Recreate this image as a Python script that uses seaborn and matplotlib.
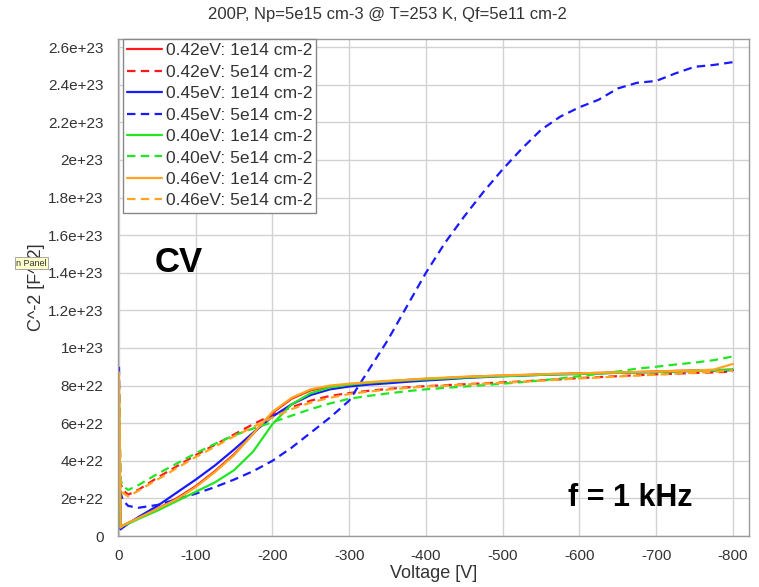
import numpy as np
import pandas as pd
import matplotlib
matplotlib.use("Agg")
import matplotlib.pyplot as plt
from matplotlib.ticker import AutoMinorLocator, FuncFormatter
import seaborn as sns

sns.set_style("white")
plt.rcParams['font.family'] = ['Liberation Sans', 'DejaVu Sans']
plt.rcParams['axes.unicode_minus'] = False

# ---------------- data (C^-2 in units of 1e22 F^-2) ----------------
voltage = [0, -2, -5, -12, -25, -50, -75, -100, -125, -150, -175, -200, -225, -250,
           -275, -300, -325, -350, -375, -400, -425, -450, -475, -500, -525, -550,
           -575, -600, -625, -650, -675, -700, -725, -750, -775, -800]

red_1e14 = [5.0, 0.45, 0.55, 0.7, 0.95, 1.45, 2.0, 2.65, 3.45, 4.35, 5.45, 6.55, 7.3, 7.75,
            7.95, 8.05, 8.15, 8.22, 8.3, 8.35, 8.4, 8.45, 8.5, 8.52, 8.55, 8.6,
            8.62, 8.65, 8.67, 8.7, 8.72, 8.75, 8.78, 8.8, 8.82, 8.85]
red_5e14 = [4.5, 2.8, 2.45, 2.2, 2.45, 3.1, 3.7, 4.3, 4.85, 5.4, 5.95, 6.45, 6.85, 7.2,
            7.45, 7.6, 7.72, 7.82, 7.9, 7.97, 8.02, 8.07, 8.12, 8.17, 8.22, 8.28,
            8.33, 8.4, 8.45, 8.5, 8.55, 8.6, 8.63, 8.67, 8.7, 8.75]
blue_1e14 = [6.3, 0.35, 0.45, 0.65, 1.0, 1.6, 2.3, 3.0, 3.75, 4.6, 5.5, 6.35, 7.0, 7.5,
             7.8, 7.95, 8.05, 8.12, 8.2, 8.27, 8.33, 8.4, 8.45, 8.5, 8.53, 8.57,
             8.6, 8.62, 8.65, 8.68, 8.7, 8.72, 8.75, 8.78, 8.8, 8.82]
blue_5e14 = [9.0, 2.3, 1.9, 1.6, 1.5, 1.65, 1.95, 2.25, 2.6, 3.0, 3.45, 4.0, 4.7, 5.5,
             6.3, 7.2, 8.8, 10.4, 12.2, 14.0, 15.6, 17.0, 18.3, 19.5, 20.6, 21.6,
             22.3, 22.8, 23.2, 23.8, 24.1, 24.2, 24.6, 24.95, 25.05, 25.2]
green_1e14 = [7.4, 0.45, 0.55, 0.65, 0.9, 1.35, 1.85, 2.35, 2.85, 3.5, 4.5, 5.95, 7.0, 7.6,
              7.9, 8.05, 8.15, 8.22, 8.28, 8.33, 8.38, 8.43, 8.47, 8.5, 8.53, 8.57,
              8.6, 8.62, 8.65, 8.68, 8.7, 8.72, 8.75, 8.78, 8.8, 8.85]
green_5e14 = [7.6, 3.0, 2.65, 2.45, 2.7, 3.3, 3.85, 4.4, 4.9, 5.35, 5.72, 6.05, 6.4, 6.75,
              7.05, 7.3, 7.45, 7.58, 7.7, 7.8, 7.88, 7.95, 8.02, 8.1, 8.18, 8.27,
              8.38, 8.5, 8.62, 8.75, 8.9, 9.0, 9.12, 9.22, 9.35, 9.55]
orange_1e14 = [8.7, 0.45, 0.55, 0.7, 0.95, 1.45, 1.95, 2.6, 3.4, 4.3, 5.45, 6.6, 7.35, 7.8,
               8.0, 8.1, 8.18, 8.25, 8.3, 8.38, 8.42, 8.47, 8.5, 8.55, 8.57, 8.6,
               8.63, 8.65, 8.68, 8.7, 8.72, 8.75, 8.78, 8.8, 8.85, 9.15]
orange_5e14 = [8.2, 2.6, 2.3, 2.1, 2.4, 3.0, 3.6, 4.2, 4.75, 5.3, 5.8, 6.3, 6.75, 7.1,
               7.35, 7.55, 7.68, 7.78, 7.87, 7.95, 8.0, 8.05, 8.1, 8.15, 8.2, 8.26,
               8.32, 8.38, 8.43, 8.48, 8.53, 8.58, 8.63, 8.68, 8.73, 8.8]

labels = ["0.42eV: 1e14 cm-2", "0.42eV: 5e14 cm-2",
          "0.45eV: 1e14 cm-2", "0.45eV: 5e14 cm-2",
          "0.40eV: 1e14 cm-2", "0.40eV: 5e14 cm-2",
          "0.46eV: 1e14 cm-2", "0.46eV: 5e14 cm-2"]
series = [red_1e14, red_5e14, blue_1e14, blue_5e14,
          green_1e14, green_5e14, orange_1e14, orange_5e14]
colors = ["#ff1a1a", "#ff1a1a", "#1a1aff", "#1a1aff",
          "#22e622", "#22e622", "#ffa51f", "#ffa51f"]
dashed = [False, True, False, True, False, True, False, True]

title = "200P, Np=5e15 cm-3 @ T=253 K, Qf=5e11 cm-2"

# ---------------- figure ----------------
fig = plt.figure(figsize=(7.59, 5.87), dpi=100)
ax = fig.add_axes([118/759, 1-536/587, (749-118)/759, (536-39)/587])

for lab, vals, col, d in zip(labels, series, colors, dashed):
    df = pd.DataFrame({"V": voltage, "C": np.array(vals) * 1e22})
    sns.lineplot(data=df, x="V", y="C", ax=ax, color=col, lw=1.6, sort=False,
                 linestyle=(0, (3.8, 2.4)) if d else "-", label=lab)

ax.set_xlim(1.3, -821)
ax.set_ylim(0, 2.643e23)
ax.set_xticks(np.arange(0, -801, -100))
ax.set_yticks(np.arange(0, 2.61e23, 2e22))
ax.xaxis.set_minor_locator(AutoMinorLocator(10))
ax.yaxis.set_minor_locator(AutoMinorLocator(20))
ax.xaxis.set_major_formatter(FuncFormatter(lambda v, p: f"{v:.0f}"))
ax.yaxis.set_major_formatter(FuncFormatter(lambda v, p: "0" if abs(v) < 1 else f"{v:g}"))

ax.grid(True, which="major", color="#d2d2d2", lw=1)
for s in ax.spines.values():
    s.set_color("#9a9a9a")
    s.set_linewidth(1)

ax.tick_params(axis="y", which="major", direction="inout", length=11, width=0.9,
               color="#555555", pad=5, labelsize=11, labelcolor="#333333")
ax.tick_params(axis="y", which="minor", direction="inout", length=3, width=0.7,
               color="#666666")
ax.tick_params(axis="x", which="major", direction="inout", length=8, width=0.9,
               color="#555555", pad=5, labelsize=11, labelcolor="#333333")
ax.tick_params(axis="x", which="minor", direction="inout", length=4, width=0.7,
               color="#777777")

ax.set_xlabel("Voltage [V]", fontsize=13, color="#333333")
ax.set_ylabel("C^-2 [F^-2]", fontsize=13, color="#333333")
ax.xaxis.set_label_coords(0.5, (536-565)/497)
ax.yaxis.set_label_coords((45-118)/631, 0.5)

leg = ax.legend(loc="upper left", bbox_to_anchor=(0.008, 1.0), fontsize=12.5,
                frameon=True, fancybox=False, framealpha=1, edgecolor="#888888",
                handlelength=2.0, handletextpad=0.2, labelspacing=0.36,
                borderpad=0.25, borderaxespad=0)
leg.get_frame().set_linewidth(1)
for t in leg.get_texts():
    t.set_color("#333333")

fig.text(387/759, 1-14/587, title, ha="center", va="center", fontsize=12,
         color="#333333")
fig.text(179/759, 1-262/587, "CV", ha="center", va="center", fontsize=25,
         fontweight="bold", color="black")
fig.text(630/759, 1-498/587, "f = 1 kHz", ha="center", va="center", fontsize=22,
         fontweight="bold", color="black")
fig.text(16/759, 1-263/587, "n Panel", ha="left", va="center", fontsize=6.5,
         color="#333333",
         bbox=dict(facecolor="#ffffcc", edgecolor="#999999", pad=1.0, lw=0.6))

fig.savefig("out.png", dpi=100)
